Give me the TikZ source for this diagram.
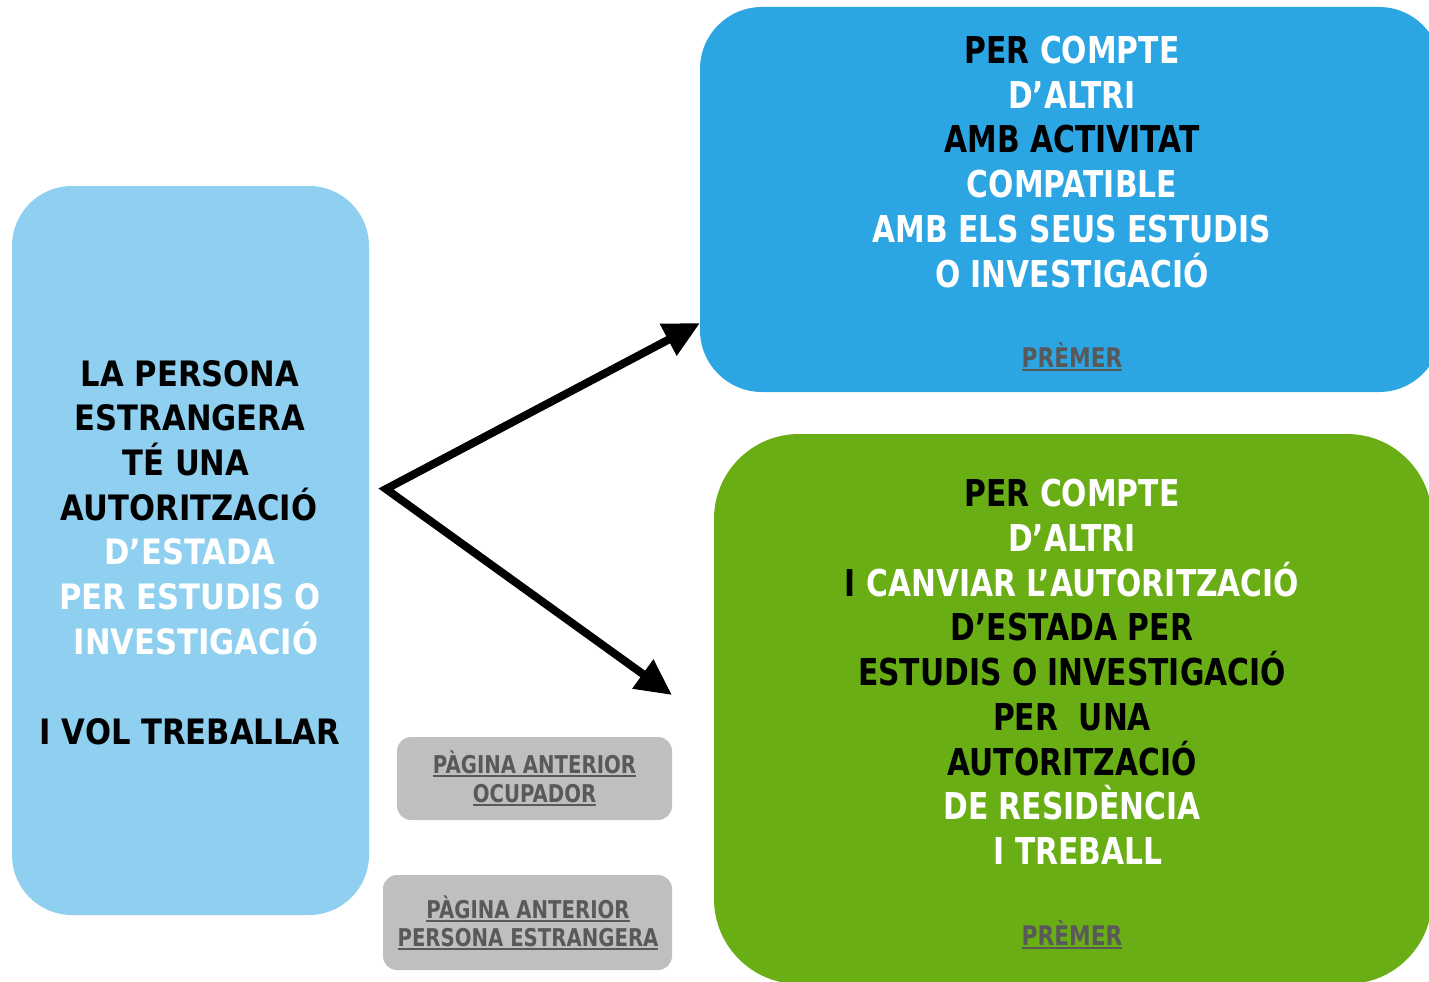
\documentclass[tikz,border=0pt]{standalone}
\usepackage{fontspec}
\usetikzlibrary{arrows.meta}
\newfontfamily\bfnt{DejaVu Sans}[FakeStretch=0.805]
\newfontfamily\lfnt{DejaVu Sans}[FakeStretch=0.875]
\definecolor{bluebox}{RGB}{44,165,227}
\definecolor{greenbox}{RGB}{106,174,22}
\definecolor{leftbox}{RGB}{143,207,239}
\definecolor{graybox}{RGB}{191,191,191}
\definecolor{gtxt}{RGB}{89,89,89}
\newcommand\K[1]{\textcolor{black}{#1}}
\newcommand\W[1]{\textcolor{white}{#1}}
\newcommand\ulx[1]{\setbox0\hbox{#1}\rlap{\color{gtxt}\rule[-4pt]{\wd0}{2.5pt}}\box0}
\tikzset{
  box/.style={draw=none, rectangle, inner sep=0pt},
  bt/.style={anchor=base, inner sep=0pt, font=\bfnt\bfseries\fontsize{37}{44}\selectfont, text=white},
  lt/.style={anchor=base, inner sep=0pt, font=\lfnt\bfseries\fontsize{35}{44}\selectfont, text=black},
  gt/.style={anchor=base, inner sep=0pt, font=\bfnt\bfseries\fontsize{24.5}{29}\selectfont, text=gtxt},
  pt/.style={anchor=base, inner sep=0pt, font=\bfnt\bfseries\fontsize{27}{30}\selectfont, text=gtxt},
  arr/.style={line width=8pt, line join=miter, {Triangle[length=36pt,width=34pt]}-{Triangle[length=36pt,width=34pt]}}
}
\begin{document}
\begin{tikzpicture}[x=1pt,y=-1pt]
\useasboundingbox (0,0) rectangle (1429,982);
\clip (0,0) rectangle (1429,982);
% boxes
\node[box, fill=leftbox, rounded corners=60pt, minimum width=357pt, minimum height=729pt] (left) at (190.5,550.5) {};
\node[box, fill=bluebox, rounded corners=62pt, minimum width=741pt, minimum height=385pt] (blue) at (1070.5,199.5) {};
\node[box, fill=greenbox, rounded corners=85pt, minimum width=718pt, minimum height=550pt] (green) at (1073,709) {};
\node[box, fill=graybox, rounded corners=14pt, minimum width=275pt, minimum height=83pt] (gray1) at (534.5,778.5) {};
\node[box, fill=graybox, rounded corners=14pt, minimum width=289pt, minimum height=95pt] (gray2) at (527.5,922.5) {};
% blue text
\foreach \t [count=\i from 0] in {{\K{PER} COMPTE},{D’ALTRI},{\K{AMB ACTIVITAT}},{COMPATIBLE},{AMB ELS SEUS ESTUDIS},{O INVESTIGACIÓ}}
  \node[bt] (b\i) at (1072,63.5+44.7*\i) {\t};
\node[pt] (bp) at (1072,367) {\ulx{PRÈMER}};
% green text
\foreach \t/\xx [count=\i from 0] in {{\K{PER} COMPTE}/1072,{D’ALTRI}/1072,{\K{I} CANVIAR L’AUTORITZACIÓ}/1072,{\K{D’ESTADA PER}}/1072,{\K{ESTUDIS O INVESTIGACIÓ}}/1072,{\K{PER\ \ UNA}}/1072,{\K{AUTORITZACIÓ}}/1072,{DE RESIDÈNCIA}/1072,{I TREBALL}/1078}
  \node[bt] (g\i) at (\xx,506.5+44.75*\i) {\t};
\node[pt] (gp) at (1072,945) {\ulx{PRÈMER}};
% left text
\foreach \t/\xx [count=\i from 0] in {{LA PERSONA}/190,{ESTRANGERA}/190,{TÉ UNA}/186,{AUTORITZACIÓ}/189,{\W{D’ESTADA}}/190,{\W{PER ESTUDIS O}}/190,{\W{INVESTIGACIÓ}}/196}
  \node[lt] (l\i) at (\xx,386+44.7*\i) {\t};
\node[lt] (l7) at (190,744) {I VOL TREBALLAR};
% gray texts
\node[gt] (p1) at (534.5,773) {\ulx{PÀGINA ANTERIOR}};
\node[gt] (p2) at (534.5,802) {\ulx{OCUPADOR}};
\node[gt] (p3) at (528,918) {\ulx{PÀGINA ANTERIOR}};
\node[gt] (p4) at (528,946) {\ulx{PERSONA ESTRANGERA}};
% arrows
\coordinate (fork) at (386,489);
\coordinate (t1) at (700,323);
\coordinate (t2) at (672,695);
\draw[arr] (t1) -- (fork) -- (t2);
\end{tikzpicture}
\end{document}
